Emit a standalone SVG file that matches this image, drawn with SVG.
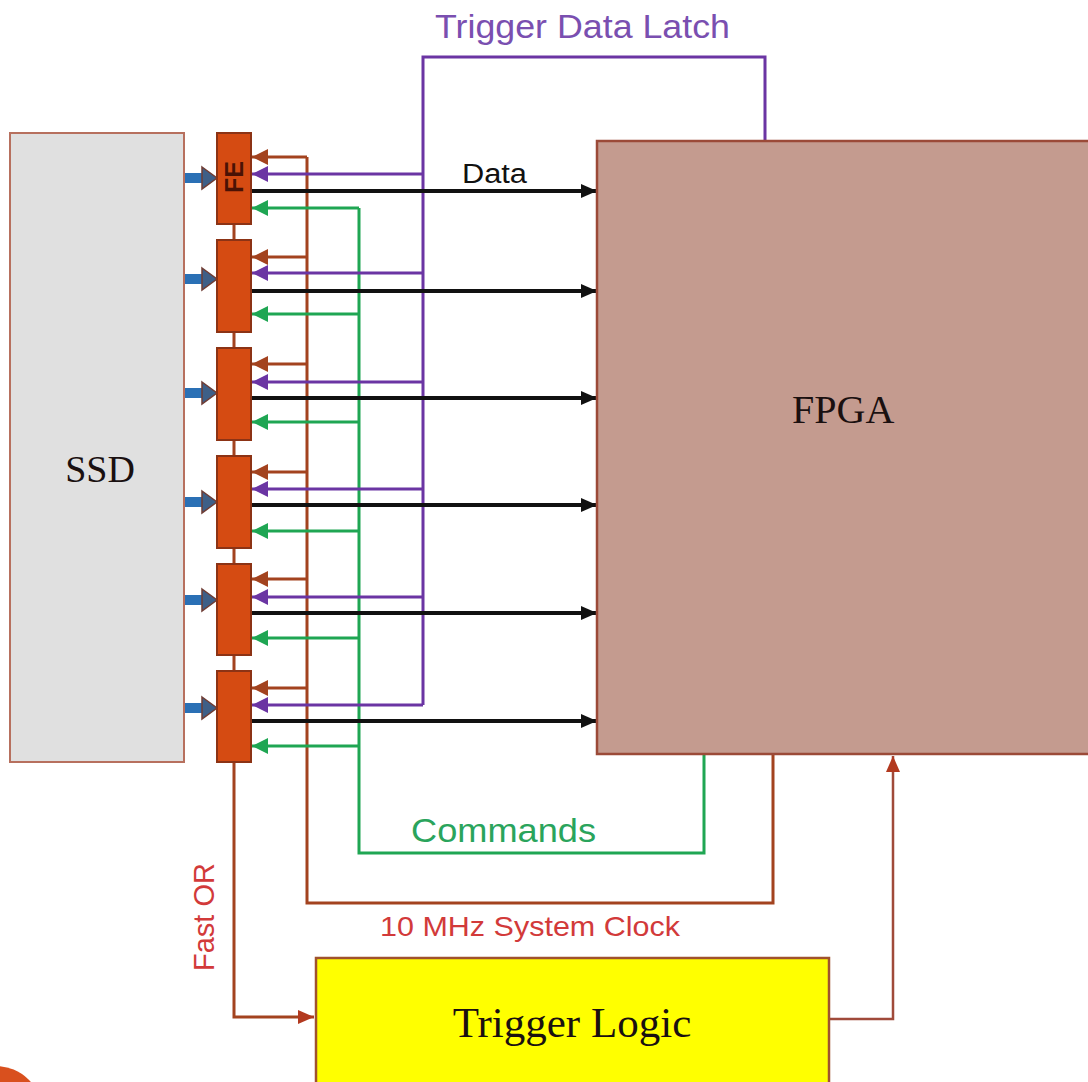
<svg xmlns="http://www.w3.org/2000/svg" width="1088" height="1082" viewBox="0 0 1088 1082">
<style>
.brn{stroke:#a3431f;stroke-width:3;fill:none}
.pur{stroke:#6b35a3;stroke-width:3;fill:none}
.grn{stroke:#1fa653;stroke-width:3;fill:none}
.blk{stroke:#111;stroke-width:4;fill:none}
.fe{fill:#d54b12;stroke:#8c3315;stroke-width:2}
.blu{stroke:#2a70b5;stroke-width:10;fill:none}
.bhead{fill:#3e5f87;stroke:#6e3c34;stroke-width:1.5}
.sans{font-family:"Liberation Sans","Arial",sans-serif}
.serif{font-family:"Liberation Serif","Times New Roman",serif;fill:#1a1010}
</style>
<defs>
<marker id="aB" markerUnits="userSpaceOnUse" markerWidth="17" markerHeight="16" refX="16" refY="8" orient="auto"><path d="M0,0 L16,8 L0,16 z" fill="#a3431f"/></marker>
<marker id="aP" markerUnits="userSpaceOnUse" markerWidth="17" markerHeight="16" refX="16" refY="8" orient="auto"><path d="M0,0 L16,8 L0,16 z" fill="#6b35a3"/></marker>
<marker id="aG" markerUnits="userSpaceOnUse" markerWidth="17" markerHeight="16" refX="16" refY="8" orient="auto"><path d="M0,0 L16,8 L0,16 z" fill="#1fa653"/></marker>
<marker id="aK" markerUnits="userSpaceOnUse" markerWidth="17" markerHeight="16" refX="16" refY="8" orient="auto"><path d="M0,1 L16,8 L0,15 z" fill="#111"/></marker>
<marker id="aR" markerUnits="userSpaceOnUse" markerWidth="17" markerHeight="16" refX="16" refY="8" orient="auto"><path d="M0,1 L16,8 L0,15 z" fill="#b2391f"/></marker>
</defs>
<rect width="1088" height="1082" fill="#ffffff"/>

<g id="connectors">
  <path class="brn" d="M234,224 V240 M234,332 V348 M234,440 V456 M234,548 V564 M234,655 V671"/>
  <path class="pur" d="M765,141 V57 H423 V705" stroke-width="3.5"/>
  <path class="grn" d="M704,754 V853 H359 V208"/>
  <path class="brn" d="M773,754 V903 H307 V157"/>
  <g class="brn" marker-end="url(#aB)">
    <line x1="307" y1="157" x2="252" y2="157"/>
    <line x1="307" y1="257" x2="252" y2="257"/>
    <line x1="307" y1="364" x2="252" y2="364"/>
    <line x1="307" y1="472" x2="252" y2="472"/>
    <line x1="307" y1="579" x2="252" y2="579"/>
    <line x1="307" y1="688" x2="252" y2="688"/>
  </g>
  <g class="pur" marker-end="url(#aP)">
    <line x1="423" y1="174" x2="252" y2="174"/>
    <line x1="423" y1="273" x2="252" y2="273"/>
    <line x1="423" y1="382" x2="252" y2="382"/>
    <line x1="423" y1="489" x2="252" y2="489"/>
    <line x1="423" y1="597" x2="252" y2="597"/>
    <line x1="423" y1="705" x2="252" y2="705"/>
  </g>
  <g class="grn" marker-end="url(#aG)">
    <line x1="359" y1="208" x2="252" y2="208"/>
    <line x1="359" y1="314" x2="252" y2="314"/>
    <line x1="359" y1="422" x2="252" y2="422"/>
    <line x1="359" y1="531" x2="252" y2="531"/>
    <line x1="359" y1="638" x2="252" y2="638"/>
    <line x1="359" y1="746" x2="252" y2="746"/>
  </g>
  <g class="blk" marker-end="url(#aK)">
    <line x1="251" y1="191" x2="597" y2="191"/>
    <line x1="251" y1="291" x2="597" y2="291"/>
    <line x1="251" y1="398" x2="597" y2="398"/>
    <line x1="251" y1="505" x2="597" y2="505"/>
    <line x1="251" y1="613" x2="597" y2="613"/>
    <line x1="251" y1="721" x2="597" y2="721"/>
  </g>
  <g>
    <line class="blu" x1="185" y1="178" x2="205" y2="178"/><path class="bhead" d="M202,167 L217,178 L202,189 z"/>
    <line class="blu" x1="185" y1="279" x2="205" y2="279"/><path class="bhead" d="M202,268 L217,279 L202,290 z"/>
    <line class="blu" x1="185" y1="393" x2="205" y2="393"/><path class="bhead" d="M202,382 L217,393 L202,404 z"/>
    <line class="blu" x1="185" y1="502" x2="205" y2="502"/><path class="bhead" d="M202,491 L217,502 L202,513 z"/>
    <line class="blu" x1="185" y1="600" x2="205" y2="600"/><path class="bhead" d="M202,589 L217,600 L202,611 z"/>
    <line class="blu" x1="185" y1="708" x2="205" y2="708"/><path class="bhead" d="M202,697 L217,708 L202,719 z"/>
  </g>
  <path class="brn" d="M234,762 V1017 H314" stroke-width="2.5" marker-end="url(#aR)"/>
  <path d="M829,1019 H893 V756" stroke="#a04a3a" stroke-width="2.5" fill="none" marker-end="url(#aR)"/>
</g>

<g id="ssd">
  <rect x="10" y="133" width="174" height="629" fill="#e0e0e0" stroke="#b7705e" stroke-width="2"/>
  <text class="serif" x="100" y="482" font-size="38" text-anchor="middle">SSD</text>
</g>

<g id="fe1"><rect class="fe" x="217" y="133" width="34" height="91"/>
  <text class="sans" transform="translate(243,177) rotate(-90)" font-size="25" font-weight="bold" fill="#4a1205" text-anchor="middle">FE</text></g>
<g id="fe2"><rect class="fe" x="217" y="240" width="34" height="92"/></g>
<g id="fe3"><rect class="fe" x="217" y="348" width="34" height="92"/></g>
<g id="fe4"><rect class="fe" x="217" y="456" width="34" height="92"/></g>
<g id="fe5"><rect class="fe" x="217" y="564" width="34" height="91"/></g>
<g id="fe6"><rect class="fe" x="217" y="671" width="34" height="91"/></g>

<g id="fpga">
  <rect x="597" y="141" width="500" height="613" fill="#c49b8f" stroke="#9b4a38" stroke-width="2.5"/>
  <text class="serif" x="792" y="423" font-size="40">FPGA</text>
</g>

<g id="trigger-logic">
  <rect x="316" y="958" width="513" height="130" fill="#ffff00" stroke="#a0522d" stroke-width="2.5"/>
  <text class="serif" x="572" y="1037" font-size="43" text-anchor="middle">Trigger Logic</text>
</g>

<g id="labels" class="sans">
  <text x="435" y="38" font-size="33" fill="#7a4fb0" textLength="295" lengthAdjust="spacingAndGlyphs">Trigger Data Latch</text>
  <text x="462" y="183" font-size="27" fill="#111" textLength="65" lengthAdjust="spacingAndGlyphs">Data</text>
  <text x="411" y="842" font-size="33" fill="#2aa45c" textLength="185" lengthAdjust="spacingAndGlyphs">Commands</text>
  <text x="380" y="936" font-size="28" fill="#d23a3a" textLength="300" lengthAdjust="spacingAndGlyphs">10 MHz System Clock</text>
  <text transform="translate(214,917) rotate(-90)" font-size="29" fill="#d23a3a" text-anchor="middle">Fast OR</text>
</g>

<circle cx="-4" cy="1112" r="46" fill="#d9501e"/>
</svg>
